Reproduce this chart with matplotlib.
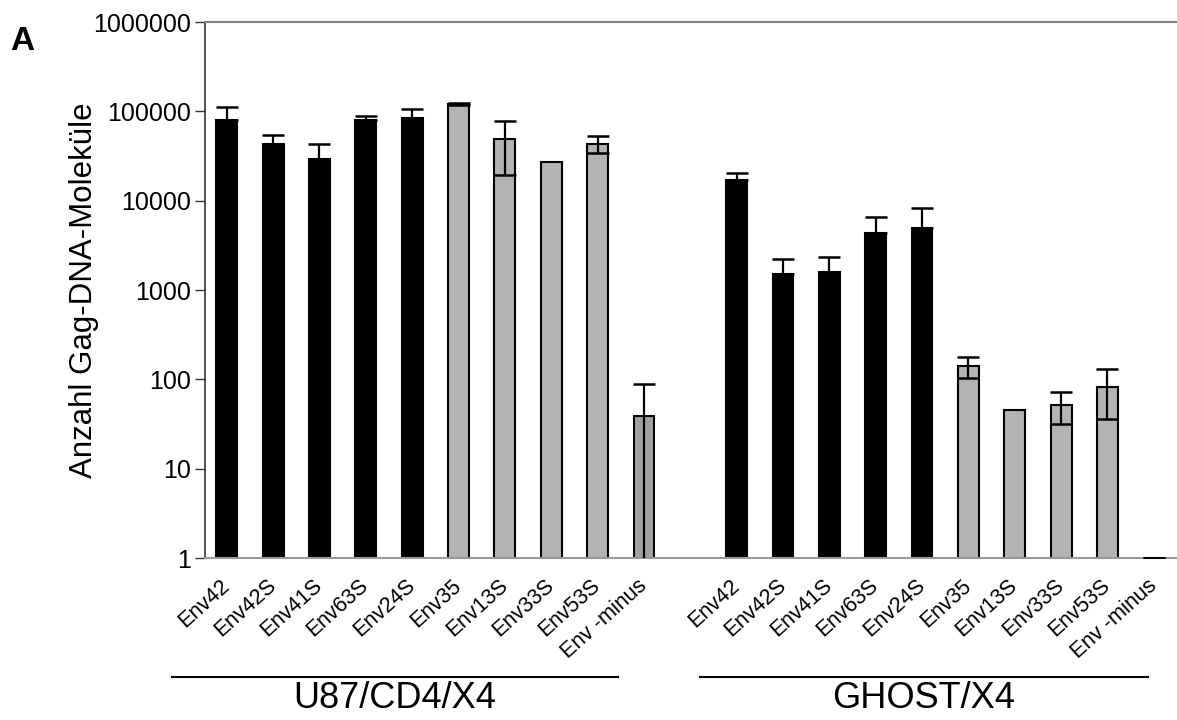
import matplotlib
matplotlib.use("Agg")
import matplotlib.pyplot as plt
import matplotlib.transforms as mtransforms
import numpy as np

plt.rcParams['font.family'] = ['Liberation Sans', 'DejaVu Sans']

categories = ["Env42", "Env42S", "Env41S", "Env63S", "Env24S",
              "Env35", "Env13S", "Env33S", "Env53S", "Env -minus"]
groups = ["U87/CD4/X4", "GHOST/X4"]

u87_values = [79000, 43300, 29100, 79700, 84000, 120500, 48900, 27000, 43300, 38.4]
u87_errors = [32500, 11300, 14200, 8000, 21800, 3500, 29500, 0, 9500, 50]

ghost_values = [17100, 1510, 1590, 4320, 4950, 141, 45.6, 51.8, 82.8, 1.0]
ghost_errors = [3200, 730, 780, 2210, 3290, 37, 0, 20, 47, 0]

ytick_values = [1, 10, 100, 1000, 10000, 100000, 1000000]

black = "#000000"
gray = "#b3b3b3"
dark_gray = "#a0a0a0"
u87_colors = [black] * 5 + [gray] * 4 + [dark_gray]
ghost_colors = [black] * 5 + [gray] * 4 + [gray]

fig = plt.figure(figsize=(11.77, 7.20), dpi=100)
ax = fig.add_axes([205 / 1177, (720 - 558) / 720, 1 - 205 / 1177, (558 - 22) / 720])

x_u87 = np.arange(len(categories))
x_ghost = np.arange(len(categories)) + len(categories) + 1
width = 0.45

for xs, vals, errs, cols in [(x_u87, u87_values, u87_errors, u87_colors),
                             (x_ghost, ghost_values, ghost_errors, ghost_colors)]:
    ax.bar(xs, vals, width=width, color=cols, edgecolor="black", linewidth=1.5, zorder=2)
    for xi, v, e, c in zip(xs, vals, errs, cols):
        if e == 0 and v > 1.5:
            continue
        lower = e if c != black else 0
        ax.errorbar(xi, v, yerr=[[lower], [e]], fmt="none", ecolor="black",
                    elinewidth=1.6, capsize=8, capthick=1.8, zorder=3)

ax.set_yscale("log")
ax.set_ylim(1, 1000000)
ax.set_xlim(-0.47, 20.5)
ax.set_yticks(ytick_values)
ax.set_yticklabels([str(v) for v in ytick_values], fontsize=18)
ax.yaxis.set_minor_locator(matplotlib.ticker.NullLocator())
ax.tick_params(axis="y", direction="out", length=7, width=1, color="#333333", pad=3)

all_x = np.concatenate([x_u87, x_ghost])
ax.set_xticks(all_x)
ax.set_xticklabels(categories + categories, rotation=42, ha="right", va="center",
                   rotation_mode="anchor", fontsize=15.5)
ax.tick_params(axis="x", length=0, pad=18)

ax.spines["right"].set_visible(False)
ax.spines["left"].set_color("#333333")
ax.spines["left"].set_linewidth(1.2)
ax.spines["top"].set_color("#808080")
ax.spines["top"].set_linewidth(1.5)
ax.spines["bottom"].set_color("#999999")
ax.spines["bottom"].set_linewidth(1.5)

ax.set_ylabel("Anzahl Gag-DNA-Moleküle", fontsize=22.5, labelpad=-4)

trans = mtransforms.blended_transform_factory(ax.transData, fig.transFigure)
line_y = (720 - 677) / 720
text_y = (720 - 699) / 720
for (x0, x1), name in zip([(-1.19, 8.45), (10.2, 19.87)], groups):
    ax.plot([x0, x1], [line_y, line_y], color="black", linewidth=1.5,
            transform=trans, clip_on=False)
    ax.text((x0 + x1) / 2, text_y, name, transform=trans, ha="center",
            va="center", fontsize=26)

fig.text(10 / 1177, 1 - 42 / 720, "A", fontsize=24, fontweight="bold", va="center")

fig.savefig("out.png", dpi=100)
